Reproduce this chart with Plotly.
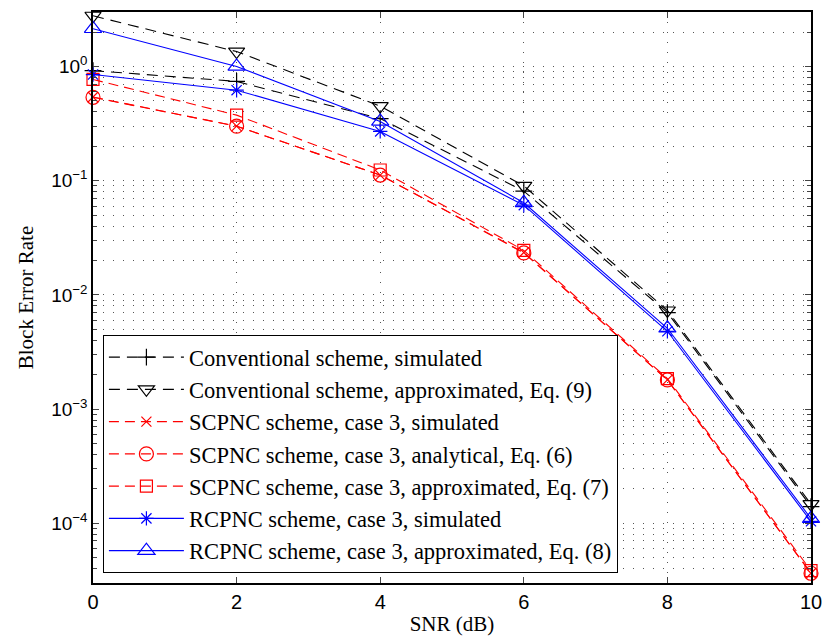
import plotly.graph_objects as go

snr = [0, 2, 4, 6, 8, 10]

conv_sim = [0.92, 0.74, 0.35, 0.081, 0.0070, 1.40e-4]
conv_approx = [2.78, 1.35, 0.45, 0.090, 0.0073, 1.47e-4]
scpnc_sim = [0.54, 0.30, 0.112, 0.0235, 0.0018, 3.65e-5]
scpnc_anal = [0.537, 0.30, 0.112, 0.0233, 0.0018, 3.65e-5]
scpnc_approx = [0.77, 0.375, 0.124, 0.0245, 0.00185, 3.85e-5]
rcpnc_sim = [0.85, 0.62, 0.27, 0.061, 0.0048, 1.04e-4]
rcpnc_approx = [2.14, 1.0, 0.33, 0.064, 0.0051, 1.10e-4]

names = [
    "Conventional scheme, simulated",
    "Conventional scheme, approximated, Eq. (9)",
    "SCPNC scheme, case 3, simulated",
    "SCPNC scheme, case 3, analytical, Eq. (6)",
    "SCPNC scheme, case 3, approximated, Eq. (7)",
    "RCPNC scheme, case 3, simulated",
    "RCPNC scheme, case 3, approximated, Eq. (8)",
]
series = [conv_sim, conv_approx, scpnc_sim, scpnc_anal, scpnc_approx, rcpnc_sim, rcpnc_approx]
colors = ["black", "black", "red", "red", "red", "blue", "blue"]
dashes = ["11px,7px", "11px,7px", "10px,6px", "10px,6px", "10px,6px", "solid", "solid"]
symbols = ["cross-thin-open", "triangle-down-open", "x-thin-open", "circle-open",
           "square-open", "asterisk-open", "triangle-up-open"]
sizes = [12, 14, 10, 14, 12, 12, 15]

fig = go.Figure()
for nm, ys, c, d, s, sz in zip(names, series, colors, dashes, symbols, sizes):
    fig.add_trace(go.Scatter(
        x=snr, y=ys, name=nm, mode="lines+markers",
        line=dict(color=c, width=1.1, dash=d),
        marker=dict(symbol=s, size=sz, color=c, line=dict(color=c, width=1.2)),
        cliponaxis=False,
    ))

ytickvals = [1e-4, 1e-3, 1e-2, 1e-1, 1]
yticktext = ["10<sup>−4</sup>", "10<sup>−3</sup>", "10<sup>−2</sup>", "10<sup>−1</sup>", "10<sup>0</sup>"]

grid_style = dict(showgrid=True, gridcolor="#555", griddash="1px,9px", gridwidth=1)

fig.update_layout(
    width=832, height=643,
    margin=dict(l=93, r=14, t=10, b=60),
    paper_bgcolor="white", plot_bgcolor="white",
    showlegend=True,
    legend=dict(
        x=0.0138, y=0.0175, xanchor="left", yanchor="bottom",
        bgcolor="white", bordercolor="black", borderwidth=1,
        font=dict(family="Liberation Serif", size=22.5, color="black"),
        itemwidth=75, tracegroupgap=0,
    ),
    xaxis=dict(
        range=[0, 10], tickvals=snr, ticks="inside", ticklen=6,
        showline=True, linecolor="black", linewidth=1.5, mirror="ticks",
        zeroline=False,
        tickfont=dict(family="Liberation Sans", size=20, color="black"),
        title=dict(text="SNR (dB)", font=dict(family="Liberation Serif", size=21, color="black"), standoff=5),
        **grid_style,
    ),
    yaxis=dict(
        type="log", range=[-4.523, 0.477],
        tickvals=ytickvals, ticktext=yticktext, ticks="inside", ticklen=6,
        showline=True, linecolor="black", linewidth=1.5, mirror="ticks",
        minor=dict(dtick="D1", ticks="inside", ticklen=4, showgrid=True,
                   gridcolor="#555", griddash="1px,9px", gridwidth=1),
        zeroline=False,
        tickfont=dict(family="Liberation Sans", size=19, color="black"),
        title=dict(text="Block Error Rate", font=dict(family="Liberation Serif", size=21, color="black"), standoff=12),
        **grid_style,
    ),
)

fig.write_html("out.html", config={"displayModeBar": False},
               post_script="document.body.style.margin='0';")
